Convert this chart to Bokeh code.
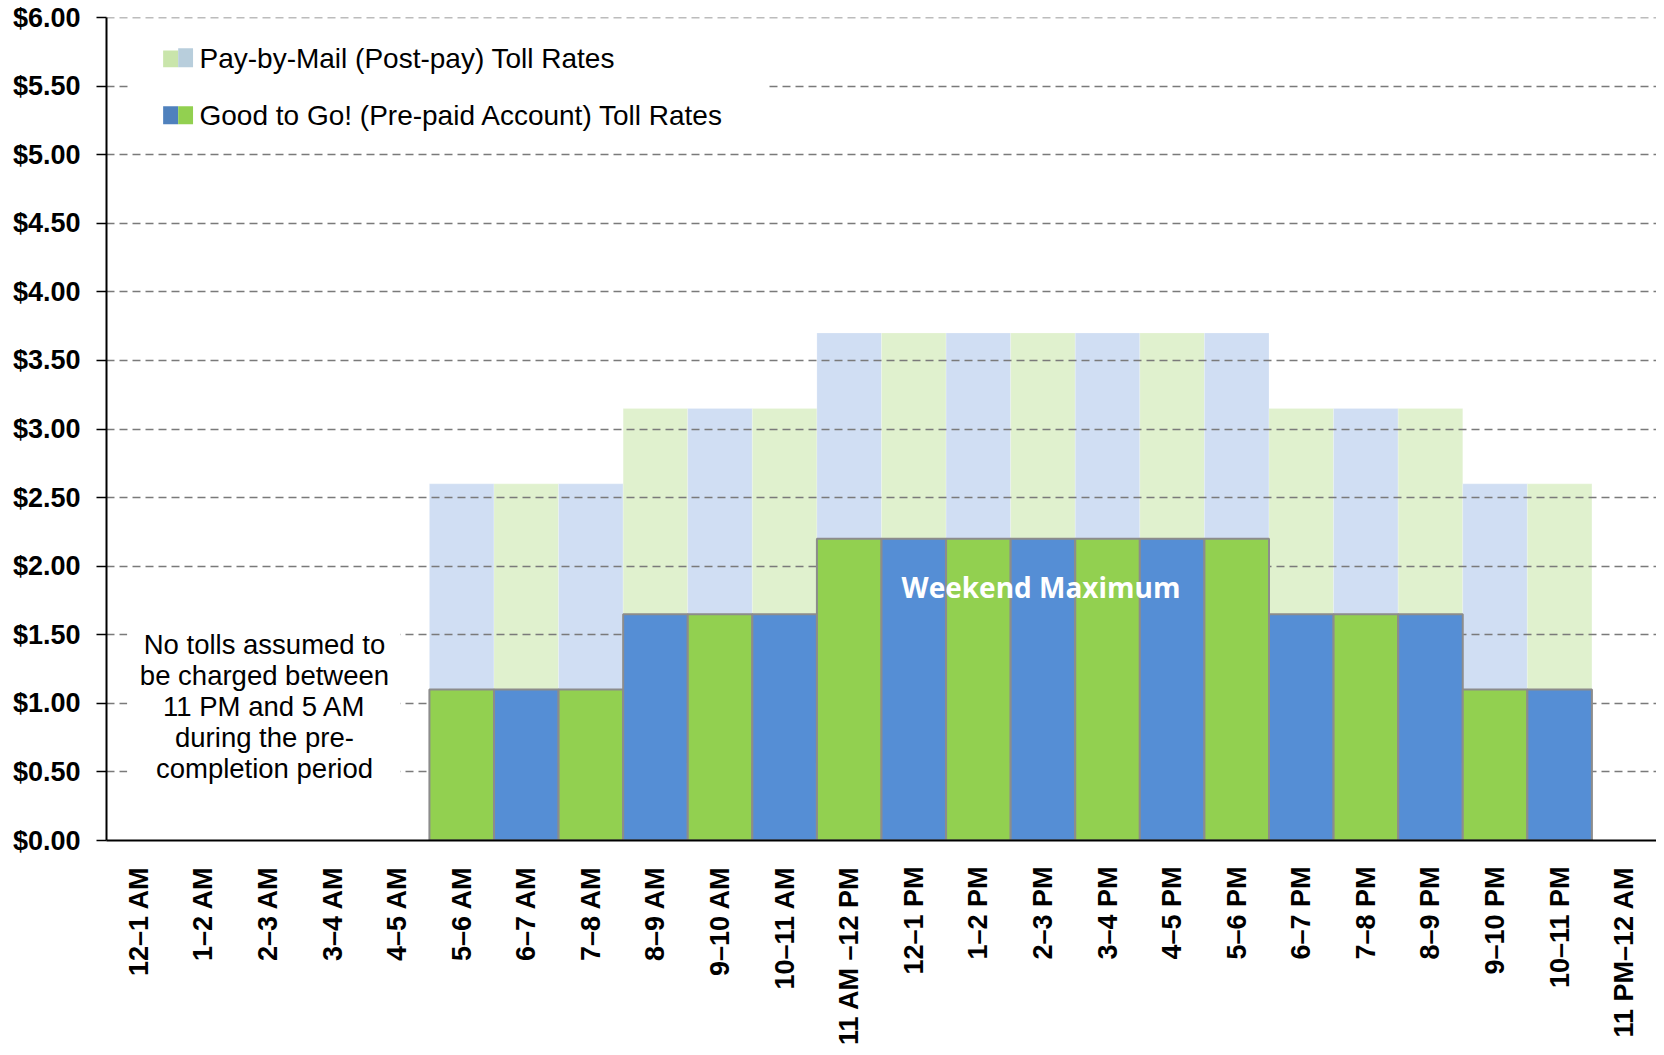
import math
from bokeh.plotting import figure
from bokeh.models import (ColumnDataSource, FactorRange, Range1d, FixedTicker,
                          NumeralTickFormatter, BoxAnnotation, Label)
from bokeh.embed import file_html
from bokeh.resources import INLINE

categories = ["12–1 AM", "1–2 AM", "2–3 AM", "3–4 AM", "4–5 AM", "5–6 AM",
              "6–7 AM", "7–8 AM", "8–9 AM", "9–10 AM", "10–11 AM", "11 AM –12 PM",
              "12–1 PM", "1–2 PM", "2–3 PM", "3–4 PM", "4–5 PM", "5–6 PM",
              "6–7 PM", "7–8 PM", "8–9 PM", "9–10 PM", "10–11 PM", "11 PM–12 AM"]
good_to_go = [0, 0, 0, 0, 0, 1.10, 1.10, 1.10, 1.65, 1.65, 1.65, 2.20,
              2.20, 2.20, 2.20, 2.20, 2.20, 2.20, 1.65, 1.65, 1.65, 1.10, 1.10, 0]
pay_by_mail = [0, 0, 0, 0, 0, 2.60, 2.60, 2.60, 3.15, 3.15, 3.15, 3.70,
               3.70, 3.70, 3.70, 3.70, 3.70, 3.70, 3.15, 3.15, 3.15, 2.60, 2.60, 0]
y_ticks = [0, 0.5, 1.0, 1.5, 2.0, 2.5, 3.0, 3.5, 4.0, 4.5, 5.0, 5.5, 6.0]

DARK_GREEN, DARK_BLUE = "#92D050", "#558ED5"
LIGHT_GREEN, LIGHT_BLUE = "#E0F1CE", "#D0DEF3"

idx = [i for i, v in enumerate(good_to_go) if v > 0]
src = ColumnDataSource(dict(
    x=[categories[i] for i in idx],
    gtg=[good_to_go[i] for i in idx],
    pbm=[pay_by_mail[i] for i in idx],
    dark=[DARK_GREEN if i % 2 == 1 else DARK_BLUE for i in idx],
    light=[LIGHT_BLUE if i % 2 == 1 else LIGHT_GREEN for i in idx],
))

p = figure(width=1656, height=1048, output_backend="svg", toolbar_location=None,
           x_range=FactorRange(factors=categories, range_padding=0),
           y_range=Range1d(0, 6),
           min_border_left=106, min_border_right=0, min_border_top=17,
           min_border_bottom=207)
p.outline_line_color = None
p.xgrid.visible = False
p.ygrid.visible = False
p.background_fill_color = "white"

# light (post-pay) bars
p.vbar(x="x", top="pbm", width=1.0, source=src, fill_color="light",
       line_color="white", line_width=0.5, line_alpha=0.4)
# dashed gridlines over the light bars
p.hspan(y=y_ticks[1:], line_color="#7A7A7A", line_width=1.6, line_dash="8 5")
# dark (pre-paid) bars
p.vbar(x="x", top="gtg", width=1.0, source=src, fill_color="dark",
       line_color="#8C8C8C", line_width=2)

# axes
p.yaxis.ticker = FixedTicker(ticks=y_ticks)
p.yaxis.formatter = NumeralTickFormatter(format="$0.00")
p.yaxis.major_label_text_font = "Liberation Sans"
p.yaxis.major_label_text_font_style = "bold"
p.yaxis.major_label_text_font_size = "27px"
p.yaxis.major_label_text_color = "black"
p.yaxis.axis_line_color = "black"
p.yaxis.axis_line_width = 2
p.yaxis.major_tick_line_color = "black"
p.yaxis.major_tick_line_width = 1.5
p.yaxis.major_tick_out = 10
p.yaxis.major_tick_in = 0
p.yaxis.minor_tick_line_color = None
p.yaxis.major_label_standoff = 16

p.xaxis.major_label_orientation = math.pi / 2
p.xaxis.major_label_text_font = "Liberation Sans"
p.xaxis.major_label_text_font_style = "bold"
p.xaxis.major_label_text_font_size = "27px"
p.xaxis.major_label_text_color = "black"
p.xaxis.axis_line_color = "black"
p.xaxis.axis_line_width = 2
p.xaxis.major_tick_line_color = None
p.xaxis.major_tick_out = 0
p.xaxis.major_tick_in = 0
p.xaxis.minor_tick_line_color = None
p.xaxis.major_label_standoff = 26

# legend (drawn by hand for the two-colour swatches)
p.add_layout(BoxAnnotation(left=0.37, right=10.25, bottom=5.03, top=5.94,
                           fill_color="white", fill_alpha=1, line_color=None))
p.add_layout(BoxAnnotation(left=0.877, right=1.11, bottom=5.637, top=5.76,
                           fill_color="#C9E5AB", fill_alpha=1, line_color=None))
p.add_layout(BoxAnnotation(left=1.11, right=1.34, bottom=5.637, top=5.775,
                           fill_color="#B8CEDC", fill_alpha=1, line_color=None))
p.add_layout(BoxAnnotation(left=0.877, right=1.11, bottom=5.222, top=5.353,
                           fill_color="#4F81BD", fill_alpha=1, line_color=None))
p.add_layout(BoxAnnotation(left=1.11, right=1.34, bottom=5.222, top=5.353,
                           fill_color="#92D050", fill_alpha=1, line_color=None))
p.add_layout(Label(x=1.44, y=5.70, text="Pay-by-Mail (Post-pay) Toll Rates",
                   text_font="Liberation Sans", text_font_size="28px",
                   text_baseline="middle", text_color="black"))
p.add_layout(Label(x=1.44, y=5.287, text="Good to Go! (Pre-paid Account) Toll Rates",
                   text_font="Liberation Sans", text_font_size="28px",
                   text_baseline="middle", text_color="black"))

# note box
p.add_layout(BoxAnnotation(left=0.32, right=4.55, bottom=0.30, top=1.68,
                           fill_color="white", fill_alpha=1, line_color=None))
p.add_layout(Label(x=2.446, y=0.975,
                   text="No tolls assumed to\nbe charged between\n11 PM and 5 AM\nduring the pre-\ncompletion period",
                   text_font="Liberation Sans", text_font_size="27.5px",
                   text_align="center", text_baseline="middle",
                   text_line_height=1.0, text_color="black"))

p.add_layout(Label(x=14.47, y=1.85, text="Weekend Maximum",
                   text_font="Open Sans", text_font_style="bold",
                   text_font_size="28px", text_align="center",
                   text_baseline="middle", text_color="white"))

open("out.html", "w").write(file_html(p, INLINE))
